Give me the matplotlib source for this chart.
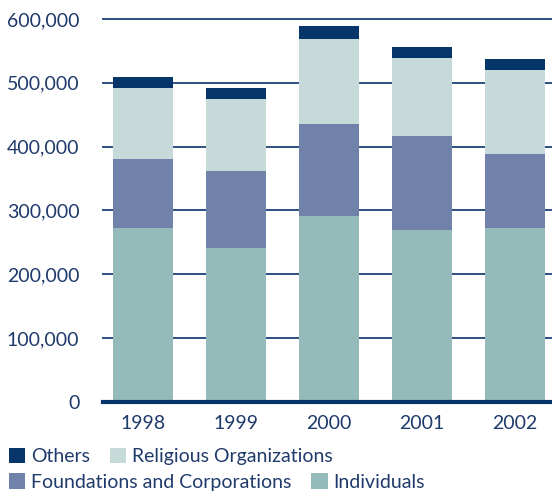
import matplotlib.pyplot as plt
import numpy as np

years = ["1998", "1999", "2000", "2001", "2002"]
individuals = [272000, 242000, 291000, 270000, 273000]
foundations = [109000, 120500, 145000, 147000, 116000]
religious = [110000, 112500, 133000, 122000, 131000]
others = [18000, 16000, 20000, 17000, 17500]

c_oth = "#06356a"
c_rel = "#c5dad9"
c_fnd = "#7082a9"
c_ind = "#94bbb9"
txt = "#1f3a6b"

plt.rcParams['font.family'] = ['Lato', 'DejaVu Sans']

fig = plt.figure(figsize=(5.52, 4.97), dpi=100)
ax = fig.add_axes([0.1866, 0.191, 0.813, 0.771])

x = np.arange(len(years))
w = 0.645
b1 = np.array(individuals)
b2 = b1 + np.array(foundations)
b3 = b2 + np.array(religious)
h_ind = ax.bar(x, individuals, w, color=c_ind, zorder=2)
h_fnd = ax.bar(x, foundations, w, bottom=b1, color=c_fnd, zorder=2)
h_rel = ax.bar(x, religious, w, bottom=b2, color=c_rel, zorder=2)
h_oth = ax.bar(x, others, w, bottom=b3, color=c_oth, zorder=2)

ax.set_xlim(-0.43, 4.40)
ax.set_ylim(0, 600000)
ax.set_yticks(range(0, 600001, 100000))
ax.set_yticklabels(["0"] + ["{:,}".format(v) for v in range(100000, 600001, 100000)])
ax.set_xticks(x)
ax.set_xticklabels(years)
for yv in range(100000, 600001, 100000):
    ax.axhline(yv, color="#2f4f82", lw=1.4, zorder=1, clip_on=False)
ax.axhline(0, color=c_oth, lw=3, zorder=3, clip_on=False)
for s in ax.spines.values():
    s.set_visible(False)
ax.tick_params(length=0, labelsize=14, colors=txt)
ax.tick_params(axis='y', pad=17)
ax.tick_params(axis='x', pad=9)

leg_kw = dict(loc='upper left', frameon=False, fontsize=14, labelcolor=txt,
              handlelength=0.85, handleheight=0.85, handletextpad=0.3,
              columnspacing=1.0, borderpad=0, borderaxespad=0, ncol=2)
fig.legend([h_oth, h_rel], ["Others", "Religious Organizations"],
           bbox_to_anchor=(0.016, 0.099), **leg_kw)
fig.legend([h_fnd, h_ind], ["Foundations and Corporations", "Individuals"],
           bbox_to_anchor=(0.016, 0.048), **leg_kw)

fig.savefig("out.png", dpi=100)
